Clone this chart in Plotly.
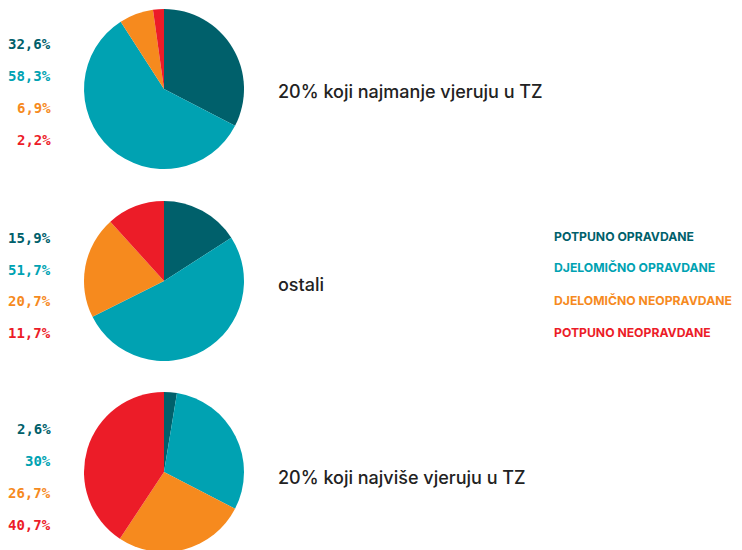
import plotly.graph_objects as go

categories = ["POTPUNO OPRAVDANE", "DJELOMIČNO OPRAVDANE", "DJELOMIČNO NEOPRAVDANE", "POTPUNO NEOPRAVDANE"]
colors = ["#00606b", "#00a2b2", "#f68a1e", "#ec1c28"]
group_titles = ["20% koji najmanje vjeruju u TZ", "ostali", "20% koji najviše vjeruju u TZ"]
values_least = [32.6, 58.3, 6.9, 2.2]
values_others = [15.9, 51.7, 20.7, 11.7]
values_most = [2.6, 30, 26.7, 40.7]
labels_least = ["32,6%", "58,3%", "6,9%", "2,2%"]
labels_others = ["15,9%", "51,7%", "20,7%", "11,7%"]
labels_most = ["2,6%", "30%", "26,7%", "40,7%"]

# page has an 8px body margin; compensate so the picture lands where the reference is
OFF = 8
W, H = 742, 550
groups = [values_least, values_others, values_most]
group_labels = [labels_least, labels_others, labels_most]
pie_tops = [9, 201, 392]
pie_size = 160
label_rows = [[44, 76, 108, 140], [238, 270, 301, 333], [429, 461, 493, 525]]
title_y = [92, 284, 477]
legend_y = [236, 268, 300, 332]


def px(x):
    return (x - OFF) / W


def py(y):
    return 1 - (y - OFF) / H


fig = go.Figure()
annotations = []
for gi, vals in enumerate(groups):
    top = pie_tops[gi]
    bottom = top + pie_size
    fig.add_trace(go.Pie(
        labels=categories, values=vals, sort=False, direction="clockwise", rotation=0,
        marker=dict(colors=colors, line=dict(width=0)),
        textinfo="none", hoverinfo="label+percent", showlegend=False,
        domain=dict(x=[px(84), px(244)], y=[max(py(bottom), 0), min(py(top), 1)]),
    ))
    for ci, lab in enumerate(group_labels[gi]):
        annotations.append(dict(
            text=f"<b>{lab}</b>", x=px(53), y=py(label_rows[gi][ci]),
            xref="paper", yref="paper", xanchor="right", yanchor="middle", showarrow=False,
            font=dict(family="DejaVu Sans Mono", size=14, color=colors[ci]),
        ))
    annotations.append(dict(
        text=group_titles[gi], x=px(276), y=py(title_y[gi]),
        xref="paper", yref="paper", xanchor="left", yanchor="middle", showarrow=False,
        font=dict(family="Inter", size=18, color="#222222", weight=500),
    ))

for ci, cat in enumerate(categories):
    annotations.append(dict(
        text=f"<b>{cat}</b>", x=px(552), y=py(legend_y[ci]),
        xref="paper", yref="paper", xanchor="left", yanchor="middle", showarrow=False,
        font=dict(family="Inter", size=12.2, color=colors[ci]),
    ))

fig.update_layout(
    width=W, height=H, margin=dict(l=0, r=0, t=0, b=0),
    paper_bgcolor="white", plot_bgcolor="white",
    annotations=annotations,
)
fig.write_html("out.html")
